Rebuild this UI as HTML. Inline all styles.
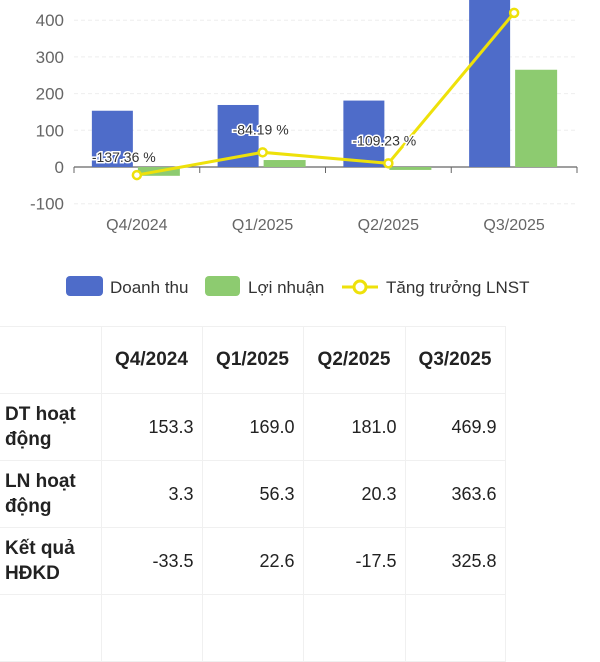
<!DOCTYPE html>
<html><head><meta charset="utf-8"><style>
body{margin:0;width:600px;height:600px;overflow:hidden;background:#fff;font-family:"Liberation Sans",sans-serif;position:relative}
svg{position:absolute;left:0;top:0}
table{position:absolute;left:0;top:326px;border-collapse:collapse;color:#222}
td{border:1px solid #f0f0f0;font-size:18px;text-align:right;padding:0 8px 0 0;height:67px;box-sizing:border-box}
td.h{font-weight:bold;text-align:center;font-size:19px;padding:0}
td.l{text-align:left;font-weight:bold;padding-left:5px;line-height:25px;font-size:19px}
</style></head><body>
<svg id="chart" width="600" height="320"></svg>
<table>
<tr style="height:65px"><td style="width:101px;border-left:none"></td><td class="h" style="width:101px">Q4/2024</td><td class="h" style="width:101px">Q1/2025</td><td class="h" style="width:102px">Q2/2025</td><td class="h" style="width:100px">Q3/2025</td></tr>
<tr><td class="l" style="border-left:none">DT hoạt<br>động</td><td>153.3</td><td>169.0</td><td>181.0</td><td>469.9</td></tr>
<tr><td class="l" style="border-left:none">LN hoạt<br>động</td><td>3.3</td><td>56.3</td><td>20.3</td><td>363.6</td></tr>
<tr><td class="l" style="border-left:none">Kết quả<br>HĐKD</td><td>-33.5</td><td>22.6</td><td>-17.5</td><td>325.8</td></tr>
<tr><td style="border-left:none"></td><td></td><td></td><td></td><td></td></tr>
</table>
<script>
const categories=["Q4/2024","Q1/2025","Q2/2025","Q3/2025"];
const revenue=[153.3,169.0,181.0,469.9];
const profit=[-24,19,-8,265];
const growth=[-22,40,10,420];
const growthLabels=["-137.36 %","-84.19 %","-109.23 %",""];
const yTicks=[-100,0,100,200,300,400];
const NS="http://www.w3.org/2000/svg";
const svg=document.getElementById('chart');
const x0=74,x1=577,cw=(x1-x0)/categories.length;
const y=v=>167-v*0.367;
function el(t,a,txt){const e=document.createElementNS(NS,t);for(const k in a)e.setAttribute(k,a[k]);if(txt!=null)e.textContent=txt;svg.appendChild(e);return e;}
yTicks.forEach(t=>{
 if(t!==0){const g=el('line',{x1:x0,x2:x1,y1:y(t),y2:y(t),stroke:'#eee','stroke-dasharray':'4 3'});
 
 }
 const l=el('text',{x:64,y:y(t)+6,'text-anchor':'end','font-size':17,fill:'#666'},t);
 
 
});
const ax=el('line',{x1:x0,x2:x1,y1:y(0),y2:y(0),stroke:'#666','stroke-width':1.2});


categories.forEach((c,i)=>{
 const cx=x0+cw*(i+0.5);
 const tk=el('line',{x1:x0+cw*i,x2:x0+cw*i,y1:y(0),y2:y(0)+6,stroke:'#666'});
 
 
 const b=el('rect',{x:cx-45,y:Math.min(y(revenue[i]),y(0)),width:41,height:Math.abs(y(revenue[i])-y(0)),fill:'#4e6cc9'});
 
 
 const g=el('rect',{x:cx+1,y:Math.min(y(profit[i]),y(0)),width:42,height:Math.abs(y(profit[i])-y(0)),fill:'#8dcb70'});
 
 
 const l=el('text',{x:cx,y:230,'text-anchor':'middle','font-size':16,fill:'#666'},c);
 
 
});
const e=el('line',{x1:x1,x2:x1,y1:y(0),y2:y(0)+6,stroke:'#666'});


const pts=growth.map((v,i)=>[x0+cw*(i+0.5),y(v)]);
const pl=el('polyline',{points:pts.map(p=>p.join(',')).join(' '),fill:'none',stroke:'#eee10a','stroke-width':3});


pts.forEach((p,i)=>{
 const c=el('circle',{cx:p[0],cy:p[1],r:4,fill:'#fff',stroke:'#eee10a','stroke-width':2.5});
 
 
 if(growthLabels[i]){const t=el('text',{x:p[0]-(i===0?45:i===1?30:36),y:p[1]-(i===0?13:18),'font-size':14,fill:'#333',stroke:'#fff','stroke-width':3,'paint-order':'stroke'},growthLabels[i]);
 
 }
});
// legend
const lg=[[66,37,110,'Doanh thu','#4e6cc9','rect'],[205,35,248,'Lợi nhuận','#8dcb70','rect'],[342,36,386,'Tăng trưởng LNST','#eee10a','line']];
lg.forEach(([lx,w,tx,txt,col,kind])=>{
 let s;
 if(kind==='rect'){s=el('rect',{x:lx,y:276,width:w,height:20,rx:4,fill:col});}
 else{s=el('line',{x1:lx,x2:lx+w,y1:287,y2:287,stroke:col,'stroke-width':3});
  const c=el('circle',{cx:lx+w/2,cy:287,r:6,fill:'#fff',stroke:col,'stroke-width':3});
  
  }
 
 
 const t=el('text',{x:tx,y:293,'font-size':17,fill:'#333'},txt);
 
 
});
</script>
</body></html>
